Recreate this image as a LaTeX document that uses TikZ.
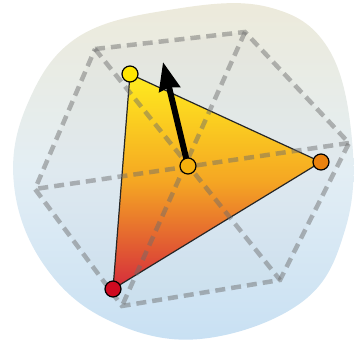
\documentclass[tikz,border=0pt]{standalone}
\usetikzlibrary{arrows.meta}
\pgfdeclarelayer{background}
\pgfsetlayers{background,main}
\definecolor{blobtop}{HTML}{EDEADA}
\definecolor{blobmid}{HTML}{E3EEF4}
\definecolor{blobbot}{HTML}{C8E0F3}
\definecolor{triyellow}{HTML}{FFEC1E}
\definecolor{triorange}{HTML}{F5A623}
\definecolor{trired}{HTML}{D52B3C}
\definecolor{vyellow}{HTML}{FFE600}
\definecolor{vorange}{HTML}{EA820E}
\definecolor{vred}{HTML}{D00A20}
\definecolor{vcenter}{HTML}{F5B00C}
\tikzset{
  vtx/.style={circle, draw=black, line width=1.2pt, minimum size=16pt, inner sep=0pt},
  hexline/.style={draw=gray!85!black, draw opacity=0.47, line width=4.5pt, dash pattern=on 10pt off 6pt},
  edge/.style={draw=black!85, line width=1.2pt},
  bigarrow/.style={line width=6pt, -{Stealth[inset=2pt,length=28pt,width=21pt]}}
}
\begin{document}
\begin{tikzpicture}[x=1pt,y=-1pt]
\useasboundingbox (0,0) rectangle (354,345);
% hexagon corners
\coordinate (h1) at (95,49);
\coordinate (h2) at (245,32);
\coordinate (h3) at (349,143);
\coordinate (h4) at (280,280);
\coordinate (h5) at (122,306);
\coordinate (h6) at (35,189);
\coordinate (tip) at (163,62);
% vertices
\node[vtx, fill=vyellow] (A) at (130,74) {};
\node[vtx, fill=vorange] (B) at (321,162) {};
\node[vtx, fill=vred] (C) at (113,289) {};
\node[vtx, fill=vcenter] (O) at (188,166) {};
\begin{pgfonlayer}{background}
  % blob
  \shade[top color=blobtop, bottom color=blobbot, middle color=blobmid]
    plot[smooth cycle, tension=0.65] coordinates {
      (14,185) (27,105) (78,37) (175,9) (268,7) (328,48) (352,140)
      (345,230) (302,302) (200,339) (108,320) (44,265)};
  % hexagon fill
  \fill[gray, fill opacity=0.04] (h1) -- (h2) -- (h3) -- (h4) -- (h5) -- (h6) -- cycle;
  % triangle
  \shade[top color=triyellow, bottom color=trired, middle color=triorange]
    (A.center) -- (B.center) -- (C.center) -- cycle;
  \draw[edge] (A.center) -- (B.center) -- (C.center) -- cycle;
  % dashed hexagon and diagonals
  \draw[hexline] (h1) -- (h2) -- (h3) -- (h4) -- (h5) -- (h6) -- cycle;
  \draw[hexline] (h1) -- (h4);
  \draw[hexline] (h2) -- (h5);
  \draw[hexline] (h3) -- (h6);
  % arrow
  \draw[bigarrow] (O.center) -- (tip);
\end{pgfonlayer}
\end{tikzpicture}
\end{document}
